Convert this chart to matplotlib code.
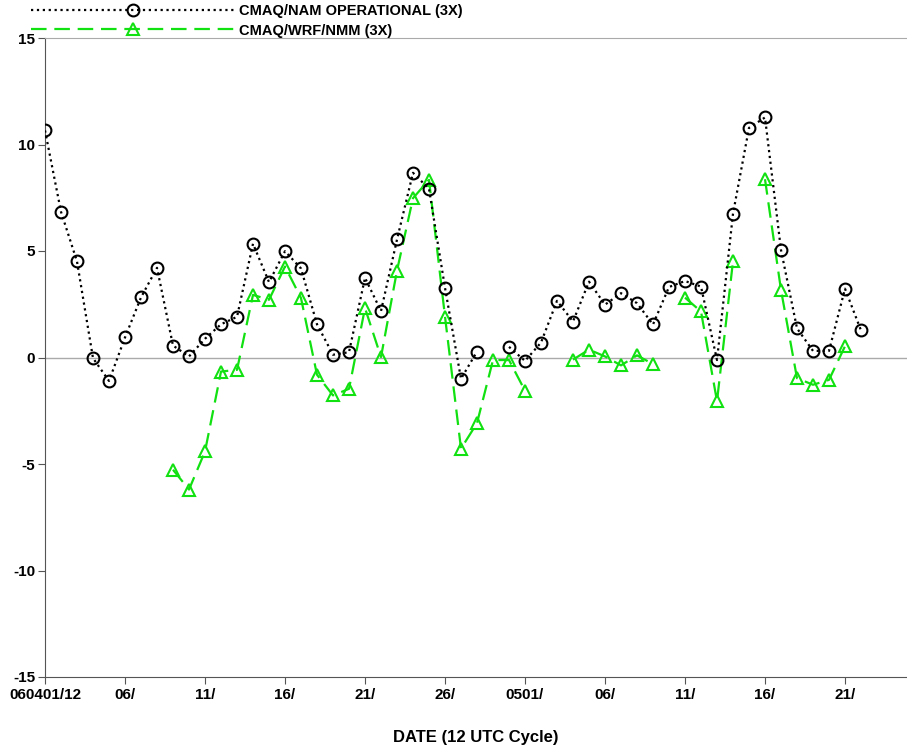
import numpy as np
import matplotlib.pyplot as plt

# days since 2006-04-01 (12 UTC cycle); None = missing
days = np.arange(52)

nam = [10.66, 6.84, 4.51, -0.03, -1.10, 0.94, 2.82, 4.21, 0.56, 0.05,
       0.88, 1.56, 1.91, 5.34, 3.54, 4.99, 4.18, 1.56, 0.13, 0.25,
       3.74, 2.18, 5.54, 8.67, 7.92, 3.27, -1.00, 0.28, None, 0.50,
       -0.16, 0.70, 2.66, 1.69, 3.56, 2.48, 3.02, 2.55, 1.55, 3.31,
       3.59, 3.33, -0.12, 6.75, 10.78, 11.27, 5.05, 1.37, 0.31, 0.31,
       3.23, 1.27]

wrf = [None, None, None, None, None, None, None, None, -5.27, -6.20,
       -4.41, -0.66, -0.58, 2.94, 2.71, 4.27, 2.79, -0.81, -1.78, -1.47,
       2.32, 0.02, 4.08, 7.48, 8.34, 1.92, -4.28, -3.08, -0.12, -0.12,
       -1.56, None, None, -0.10, 0.37, 0.05, -0.37, 0.10, -0.31, None,
       2.81, 2.16, -2.05, 4.52, None, 8.37, 3.17, -0.97, -1.28, -1.05,
       0.53, None]

tick_days = [0, 5, 10, 15, 20, 25, 30, 35, 40, 45, 50]
tick_labels = ['060401/12', '06/', '11/', '16/', '21/', '26/', '0501/',
               '06/', '11/', '16/', '21/']
yticks = [-15, -10, -5, 0, 5, 10, 15]

nam = np.array([np.nan if v is None else v for v in nam])
wrf = np.array([np.nan if v is None else v for v in wrf])

plt.rcParams['font.family'] = ['Liberation Sans', 'DejaVu Sans']
plt.rcParams['font.weight'] = 'bold'
plt.rcParams['axes.unicode_minus'] = False

fig = plt.figure(figsize=(9.07, 7.45), dpi=100)
ax = fig.add_axes([45/907, 68/745, 1 - 45/907, 639/745])

green = '#11e011'
ax.axhline(0, color='#aaaaaa', lw=1, zorder=1)
l1, = ax.plot(days, nam, color='black', ls=':', lw=1.6, marker='o', ms=8.5,
              mfc='none', mec='black', mew=1.5, label='CMAQ/NAM OPERATIONAL (3X)', zorder=3)
l2, = ax.plot(days, wrf, color=green, ls=(0, (7, 3.5)), lw=1.6, marker='^', ms=8.5,
              mfc='none', mec=green, mew=1.5, label='CMAQ/WRF/NMM (3X)', zorder=2)

ax.set_xlim(0, 53.875)
ax.set_ylim(-15, 15)
ax.set_xticks(tick_days)
ax.set_xticklabels(tick_labels)
ax.set_yticks(yticks)
ax.tick_params(axis='both', labelsize=11, length=5, color='#555555', direction='out')
ax.tick_params(axis='x', pad=3)
ax.tick_params(axis='y', pad=2)
ax.spines['right'].set_visible(False)
ax.spines['top'].set_color('#aaaaaa')
ax.spines['left'].set_color('#555555')
ax.spines['bottom'].set_color('#555555')
ax.set_xlabel('DATE (12 UTC Cycle)', fontsize=12, fontweight='bold', labelpad=20)

fig.legend(handles=[l1, l2], loc='upper left', bbox_to_anchor=(30/907, 1 - 3/745),
           frameon=False, handlelength=13.9, handletextpad=0.3, labelspacing=0.35,
           borderpad=0.1, borderaxespad=0, numpoints=1,
           prop={'size': 10.5, 'weight': 'bold'})

fig.savefig('out.png', dpi=100)
